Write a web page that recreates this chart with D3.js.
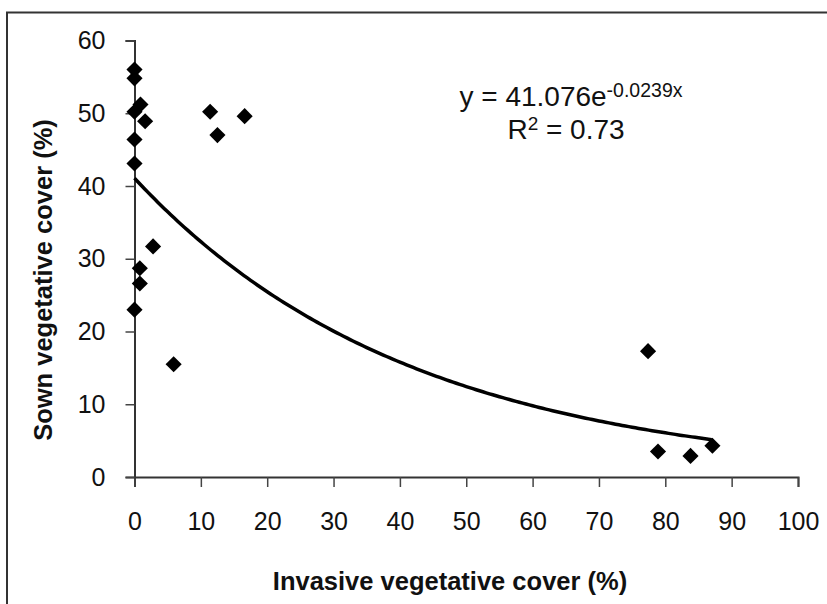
<!DOCTYPE html>
<html>
<head>
<meta charset="utf-8">
<script src="https://cdn.jsdelivr.net/npm/d3@7"></script>
<style>
  body { margin: 0; background: #fff; }
  svg { display: block; }
  text { font-family: "Liberation Sans", Arial, sans-serif; fill: #111; }
</style>
</head>
<body>
<svg id="chart" width="827" height="604"></svg>
<script>
// invasive cover (x) and sown cover (y)
let invasive = [0, 0, 0, 0.9, 1.6, 0, 0, 2.8, 0.8, 0.8, 0, 5.9, 11.4, 12.5, 16.6, 77.4, 78.9, 83.8, 87.1],
    sown     = [56.0, 54.8, 50.2, 51.2, 48.9, 46.4, 43.1, 31.7, 28.7, 26.6, 23.0, 15.5, 50.2, 47.0, 49.6, 17.3, 3.5, 2.9, 4.3];

let xTicks = [0, 10, 20, 30, 40, 50, 60, 70, 80, 90, 100],
    yTicks = [0, 10, 20, 30, 40, 50, 60];

// fitted exponential trend
let coefA = 41.076,
    coefB = -0.0239,
    rSquared = 0.73;

let width = 827,
    height = 604,
    margins = {top: 40.5, bottom: 127, left: 134.5, right: 29};

function make_scales() {
  return {
    x: d3.scaleLinear()
         .domain([0, 100])
         .range([margins.left, width - margins.right]),
    y: d3.scaleLinear()
         .domain([0, 60])
         .range([height - margins.bottom, margins.top])
  };
}

function add_frame(svg) {
  svg.append("rect")
    .attr("x", 7)
    .attr("y", 12.5)
    .attr("width", 900)
    .attr("height", 700)
    .attr("fill", "none")
    .attr("stroke", "#333")
    .attr("stroke-width", 2);
}

function add_axes(svg, scales) {
  let x_axis = d3.axisBottom(scales.x)
        .tickValues(xTicks)
        .tickSize(10)
        .tickPadding(25)
        .tickFormat(d3.format("d")),
      y_axis = d3.axisLeft(scales.y)
        .tickValues(yTicks)
        .tickSize(9)
        .tickPadding(20)
        .tickFormat(d3.format("d"));

  let gx = svg.append("g")
    .attr("transform", `translate(0,${scales.y(0)})`)
    .call(x_axis);
  let gy = svg.append("g")
    .attr("transform", `translate(${scales.x(0)},0)`)
    .call(y_axis);

  [gx, gy].forEach(g => {
    g.select(".domain").attr("stroke", "#333").attr("stroke-width", 2);
    g.selectAll(".tick line").attr("stroke", "#444").attr("stroke-width", 1.5);
    g.selectAll(".tick text")
      .attr("fill", "#111")
      .style("font-family", "'Liberation Sans', Arial, sans-serif")
      .style("font-size", "25px");
  });

  svg.append("text")
    .attr("x", 450)
    .attr("y", 590)
    .attr("text-anchor", "middle")
    .style("font-size", "25.5px")
    .style("font-weight", "bold")
    .text("Invasive vegetative cover (%)");

  svg.append("text")
    .attr("transform", "translate(52,280) rotate(-90)")
    .attr("text-anchor", "middle")
    .style("font-size", "25.5px")
    .style("font-weight", "bold")
    .text("Sown vegetative cover (%)");
}

function draw_trend(svg, scales) {
  let xs = d3.range(d3.min(invasive), d3.max(invasive) + 0.01, 0.5);
  let path_generator = d3.line()
    .x(d => scales.x(d))
    .y(d => scales.y(coefA * Math.exp(coefB * d)));

  svg.append("path")
    .datum(xs)
    .attr("d", path_generator)
    .attr("fill", "none")
    .attr("stroke", "#000")
    .attr("stroke-width", 3.5);
}

function draw_points(svg, scales) {
  let symbol = d3.symbol().type(d3.symbolSquare).size(130);
  svg.append("g")
    .selectAll("path")
    .data(invasive.map((x, i) => ({x: x, y: sown[i]})))
    .join("path")
    .attr("d", symbol)
    .attr("transform", d => `translate(${scales.x(d.x)},${scales.y(d.y)}) rotate(45)`)
    .attr("fill", "#000");
}

function add_equation(svg) {
  let eq = svg.append("text")
    .attr("x", 571)
    .attr("y", 106)
    .attr("text-anchor", "middle")
    .style("font-size", "28px");
  eq.append("tspan").text(`y = ${coefA}e`);
  eq.append("tspan")
    .attr("dy", -9.5)
    .style("font-size", "19.5px")
    .text(`${coefB}x`);

  let r2 = svg.append("text")
    .attr("x", 566)
    .attr("y", 139)
    .attr("text-anchor", "middle")
    .style("font-size", "28px");
  r2.append("tspan").text("R");
  r2.append("tspan")
    .attr("dy", -9)
    .style("font-size", "19px")
    .text("2");
  r2.append("tspan")
    .attr("dy", 9)
    .text(` = ${rSquared}`);
}

function visualize() {
  let svg = d3.select("#chart");
  let scales = make_scales();
  add_frame(svg);
  add_axes(svg, scales);
  draw_trend(svg, scales);
  draw_points(svg, scales);
  add_equation(svg);
}

visualize();
</script>
</body>
</html>
